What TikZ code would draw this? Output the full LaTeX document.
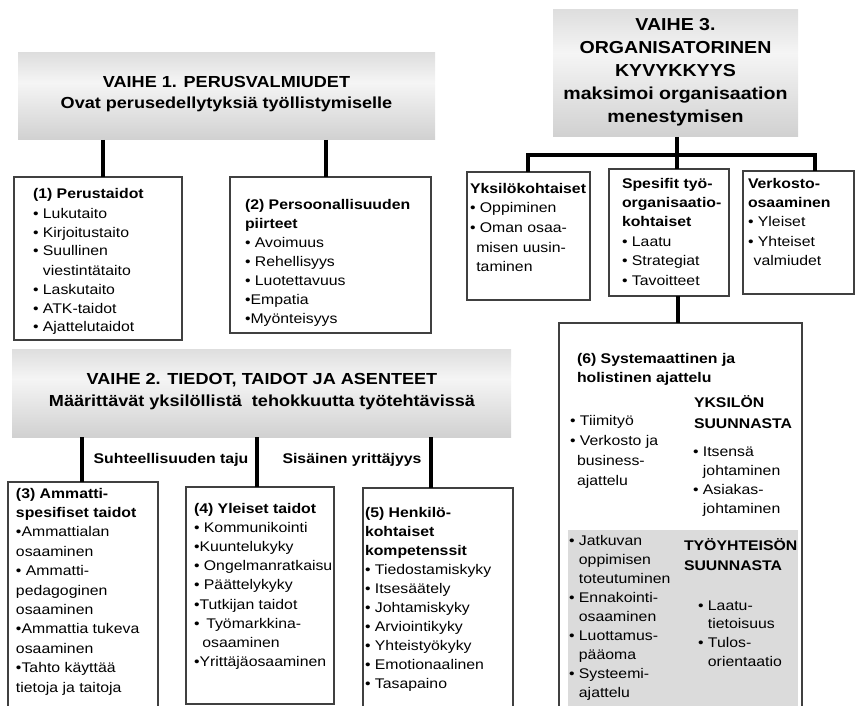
\documentclass[tikz,border=0pt]{standalone}
\usepackage{fontspec}
\setmainfont{Liberation Sans}[FakeStretch=1.13]
\usetikzlibrary{fit}

\definecolor{hdrtop}{gray}{0.74}
\definecolor{hdrmid}{gray}{0.96}
\definecolor{hdrbot}{gray}{0.71}
\definecolor{panelgray}{gray}{0.86}
\definecolor{edge}{gray}{0.25}

% light band slightly above the middle of the stage banners
\pgfdeclareverticalshading{hdrshade}{100bp}{color(0bp)=(hdrbot); color(58bp)=(hdrmid); color(100bp)=(hdrtop)}

% left-aligned list block, baseline at its first line
\newcommand\txtlines[2]{\parbox[t]{260pt}{\raggedright\fontsize{10.5pt}{#1}\selectfont #2}}
% centred bold banner text
\newcommand\hdrlines[3]{\parbox[t]{420pt}{\centering\fontsize{#1}{#2}\selectfont\bfseries #3}}

\tikzset{
  every node/.style={inner sep=0pt, outer sep=0pt},
  hdr/.style={shade, shading=hdrshade},
  panel/.style={draw=edge, line width=0.9pt, fill=white},
  shadepanel/.style={fill=panelgray},
  conn/.style={line width=3pt, line join=miter},
  txt/.style={anchor=base west},
  ctxt/.style={anchor=base},
  lbl/.style={anchor=base, font=\fontsize{10.5pt}{12pt}\selectfont\bfseries},
}

\begin{document}
\begin{tikzpicture}[x=0.75pt,y=-0.75pt]
\useasboundingbox (0,0) rectangle (856,706);
\clip (0,0) rectangle (856,706);

% x positions of the vertical connectors
\coordinate (x1) at (103,0);
\coordinate (x2) at (326,0);
\coordinate (x3) at (677,0);
\coordinate (x4) at (528,0);
\coordinate (x5) at (815,0);
\coordinate (x6) at (678,0);
\coordinate (x7) at (82,0);
\coordinate (x8) at (257,0);
\coordinate (x9) at (431,0);
\coordinate (bar) at (0,155);

% stage banners
\node[hdr, fit={(18,53) (435,140)}] (h1) {};
\node[hdr, fit={(553,10) (798,137)}] (h3) {};
\node[hdr, fit={(12,349) (511,437)}] (h2) {};

% panels (placed first so connectors can reference them)
\path node[panel, fit={(14,177) (182,340)}] (b1) {}
      node[panel, fit={(230,177) (431,333)}] (b2) {}
      node[panel, fit={(467,172) (590,300)}] (b7) {}
      node[panel, fit={(609,169) (729,296)}] (b8) {}
      node[panel, fit={(743,171) (854,294)}] (b9) {}
      node[panel, fit={(559,323) (802,720)}] (b6) {}
      node[panel, fit={(8,482) (158,720)}] (b3) {}
      node[panel, fit={(186,487) (334,704)}] (b4) {}
      node[panel, fit={(363,488) (513,720)}] (b5) {};
\node[shadepanel, fit={(568,530) (798,720)}] (g6) {};

% connectors
\draw[conn] (h1.south -| x1) -- (b1.north -| x1);
\draw[conn] (h1.south -| x2) -- (b2.north -| x2);
\draw[conn] (h3.south -| x3) -- (b8.north -| x3);
\draw[conn] (b7.north -| x4) -- (bar -| x4) -- (bar -| x5) -- (b9.north -| x5);
\draw[conn] (b8.south -| x6) -- (b6.north -| x6);
\draw[conn] (h2.south -| x7) -- (b3.north -| x7);
\draw[conn] (h2.south -| x8) -- (b4.north -| x8);
\draw[conn] (h2.south -| x9) -- (b5.north -| x9);

% banner texts
\node[ctxt] (h1t) at (226.5,88) {\hdrlines{12pt}{15.75pt}{VAIHE 1. PERUSVALMIUDET\\Ovat perusedellytyksiä työllistymiselle}};
\node[ctxt] (h3t) at (675.5,31) {\hdrlines{13pt}{17.25pt}{VAIHE 3.\\ORGANISATORINEN\\KYVYKKYYS\\maksimoi organisaation\\menestymisen}};
\node[ctxt] (h2t) at (262,384) {\hdrlines{12pt}{16.5pt}{VAIHE 2. TIEDOT, TAIDOT JA ASENTEET\\Määrittävät yksilöllistä\ \ tehokkuutta työtehtävissä}};

% connector labels
\node[lbl] (l1) at (171,463) {Suhteellisuuden taju};
\node[lbl] (l2) at (352,463) {Sisäinen yrittäjyys};

% stage 1 lists
\node[txt] (t1) at (33,199) {\txtlines{14.25pt}{\textbf{(1) Perustaidot}\\• Lukutaito\\• Kirjoitustaito\\• Suullinen\\\phantom{• }viestintätaito\\• Laskutaito\\• ATK-taidot\\• Ajattelutaidot}};
\node[txt] (t2) at (245,209.5) {\txtlines{14.25pt}{\textbf{(2) Persoonallisuuden}\\\textbf{piirteet}\\• Avoimuus\\• Rehellisyys\\• Luotettavuus\\•Empatia\\•Myönteisyys}};

% stage 3 lists
\node[txt] (t7) at (470,193) {\txtlines{14.8pt}{\textbf{Yksilökohtaiset}\\• Oppiminen\\• Oman osaa-\\\hspace*{0.45em}misen uusin-\\\hspace*{0.45em}taminen}};
\node[txt] (t8) at (622,188) {\txtlines{14.6pt}{\textbf{Spesifit työ-}\\\textbf{organisaatio-}\\\textbf{kohtaiset}\\• Laatu\\• Strategiat\\• Tavoitteet}};
\node[txt] (t9) at (748,188) {\txtlines{14.6pt}{\textbf{Verkosto-}\\\textbf{osaaminen}\\• Yleiset\\• Yhteiset\\\hspace*{0.4em}valmiudet}};

% panel (6)
\node[txt] (t6a) at (577,363) {\txtlines{14.25pt}{\textbf{(6) Systemaattinen ja}\\\textbf{holistinen ajattelu}}};
\node[txt] (t6b) at (694,407) {\txtlines{15.75pt}{\textbf{YKSILÖN}\\\textbf{SUUNNASTA}}};
\node[txt] (t6c) at (570,425.5) {\txtlines{15pt}{• Tiimityö\\• Verkosto ja\\\hspace*{0.5em}business-\\\hspace*{0.5em}ajattelu}};
\node[txt] (t6d) at (693,456) {\txtlines{14.4pt}{• Itsensä\\\phantom{• }johtaminen\\• Asiakas-\\\phantom{• }johtaminen}};
\node[txt] (t6e) at (569,545) {\txtlines{14.25pt}{• Jatkuvan\\\phantom{• }oppimisen\\\phantom{• }toteutuminen\\• Ennakointi-\\\phantom{• }osaaminen\\• Luottamus-\\\phantom{• }pääoma\\• Systeemi-\\\phantom{• }ajattelu}};
\node[txt] (t6f) at (684,550) {\txtlines{15pt}{\textbf{TYÖYHTEISÖN}\\\textbf{SUUNNASTA}}};
\node[txt] (t6g) at (698,610) {\txtlines{14pt}{• Laatu-\\\phantom{• }tietoisuus\\• Tulos-\\\phantom{• }orientaatio}};

% stage 2 lists
\node[txt] (t3) at (16,498) {\txtlines{14.55pt}{\textbf{(3) Ammatti-}\\\textbf{spesifiset taidot}\\•Ammattialan\\osaaminen\\• Ammatti-\\pedagoginen\\osaaminen\\•Ammattia tukeva\\osaaminen\\•Tahto käyttää\\tietoja ja taitoja}};
\node[txt] (t4) at (194,513) {\txtlines{14.4pt}{\textbf{(4) Yleiset taidot}\\• Kommunikointi\\•Kuuntelukyky\\• Ongelmanratkaisu\\• Päättelykyky\\•Tutkijan taidot\\• \,Työmarkkina-\\\hspace*{0.6em}osaaminen\\•Yrittäjäosaaminen}};
\node[txt] (t5) at (365,517) {\txtlines{14.3pt}{\textbf{(5) Henkilö-}\\\textbf{kohtaiset}\\\textbf{kompetenssit}\\• Tiedostamiskyky\\• Itsesäätely\\• Johtamiskyky\\• Arviointikyky\\• Yhteistyökyky\\• Emotionaalinen\\• Tasapaino}};
\end{tikzpicture}
\end{document}
